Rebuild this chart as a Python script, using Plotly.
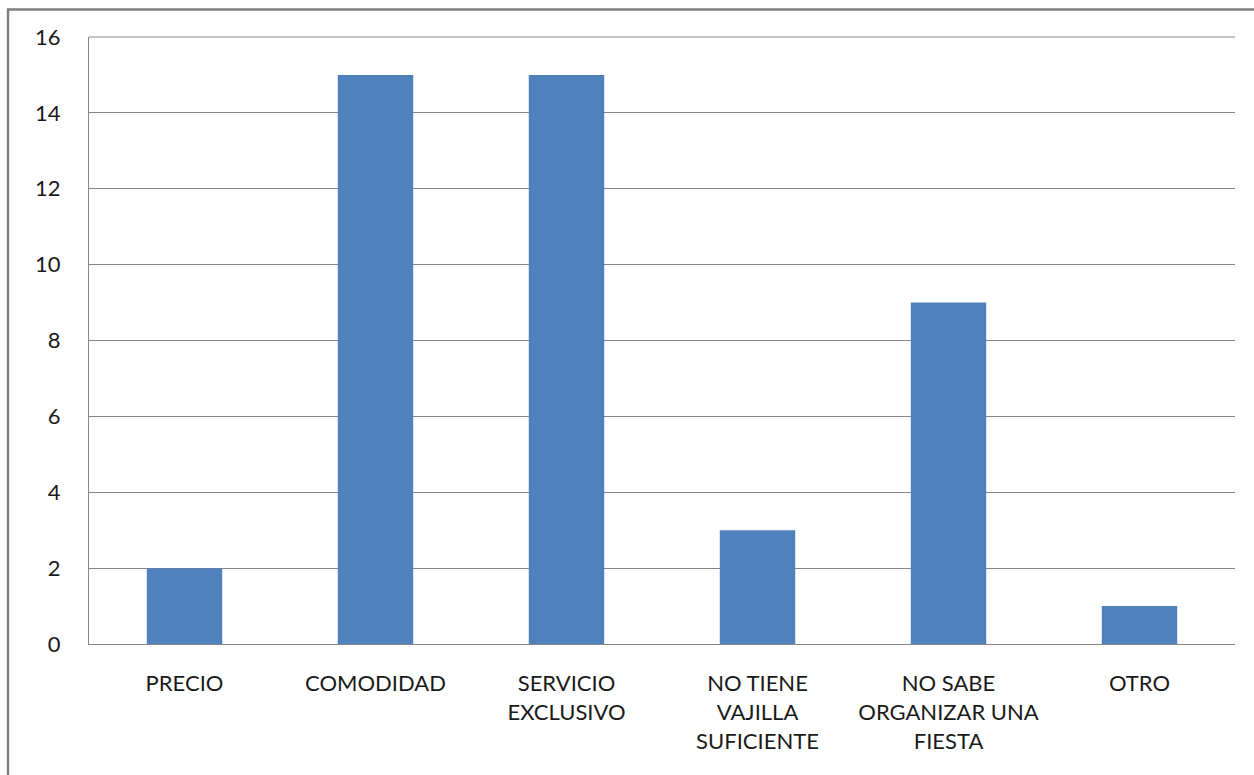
import plotly.graph_objects as go

categories = ["PRECIO", "COMODIDAD", "SERVICIO<br>EXCLUSIVO", "NO TIENE<br>VAJILLA<br>SUFICIENTE",
              "NO SABE<br>ORGANIZAR UNA<br>FIESTA", "OTRO"]
values = [2, 15, 15, 3, 9, 1]
y_ticks = [0, 2, 4, 6, 8, 10, 12, 14, 16]

W, H = 1254, 775
ml, mr, mt, mb = 89, 19, 37, 131
pw, ph = W - ml - mr, H - mt - mb

fig = go.Figure(go.Bar(x=categories, y=values, marker=dict(color="#4F81BD", line=dict(width=0)),
                       width=0.395))

fig.update_layout(
    width=W, height=H,
    margin=dict(l=ml, r=mr, t=mt, b=mb),
    paper_bgcolor="white", plot_bgcolor="white",
    font=dict(family="Lato, Liberation Sans, sans-serif", size=21, color="#1a1a1a"),
    showlegend=False,
    xaxis=dict(showgrid=False, showline=True, linecolor="#868686", linewidth=1,
               ticks="", ticklabelstandoff=20, tickfont=dict(size=22)),
    yaxis=dict(range=[0, 16], tickvals=y_ticks, showgrid=True, gridcolor="#868686", gridwidth=1,
               showline=True, linecolor="#868686", linewidth=1, ticks="",
               ticklabelstandoff=23, zeroline=False, tickfont=dict(size=22)),
    shapes=[dict(type="rect", xref="paper", yref="paper",
                 x0=(8 - ml) / pw, x1=(1262 - ml) / pw,
                 y0=-(H + 10 - mt - ph) / ph, y1=1 + (mt - 9.5) / ph,
                 line=dict(color="#808080", width=2.5), layer="below")],
)
fig.add_shape(type="line", xref="paper", yref="paper", x0=0, x1=1, y0=1, y1=1,
              line=dict(color="#868686", width=1))

fig.write_html("out.html")
